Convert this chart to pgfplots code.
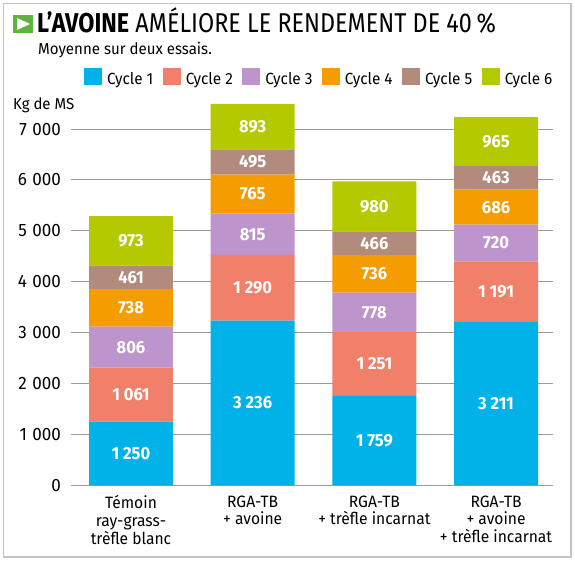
\documentclass[border=0pt]{standalone}
\usepackage{pgfplots}
\pgfplotsset{compat=1.18}
\usepackage{fontspec}
\setmainfont{Fira Sans}[FakeStretch=0.95]
\newfontfamily\titlefont{Fira Sans}[FakeStretch=0.86]

\definecolor{c1}{HTML}{00B2E8}
\definecolor{c2}{HTML}{F0806A}
\definecolor{c3}{HTML}{BD94CC}
\definecolor{c4}{HTML}{F59C00}
\definecolor{c5}{HTML}{B38B7C}
\definecolor{c6}{HTML}{B5C900}
\definecolor{gridc}{HTML}{9A9A9A}
\definecolor{framec}{HTML}{C4C4C4}
\definecolor{titleg}{HTML}{5DB33B}

\newcommand\fs[1]{\fontsize{#1}{1.15\dimexpr#1pt\relax}\selectfont}

\pgfplotsset{
  cyc/.style={fill=#1, draw=none,
    legend image code/.code={\fill[#1] (0bp,-6bp) rectangle (18bp,11bp);}},
}

\begin{document}
\begin{tikzpicture}[x=1bp,y=1bp]
\useasboundingbox (0,0) rectangle (575,562);
\fill[white] (0,0) rectangle (575,562);
\draw[framec, line width=1.5bp] (3.5,5) rectangle (571,558.5);

% titre
\fill[titleg] (13,529) rectangle (33,547);
\fill[white] (17,532) -- (30,538) -- (17,544) -- cycle;
\node[anchor=base west, inner sep=0, font=\titlefont\fs{27.3}] at (37,529)
  {\textbf{L’AVOINE} AMÉLIORE LE RENDEMENT DE 40\,\%};
\node[anchor=base west, inner sep=0, font=\fs{15.9}] at (38,507)
  {Moyenne sur deux essais.};
\node[anchor=base west, inner sep=0, font=\fs{15.8}] at (13,452)
  {Kg de MS};

\begin{axis}[
  at={(71bp,76.7bp)}, anchor=south west,
  width=482bp, height=386.8bp, scale only axis,
  ybar stacked, bar width=0.69,
  xmin=-0.493, xmax=3.468, ymin=0, ymax=7600,
  axis line style={draw=none}, major tick length=0,
  ymajorgrids, grid style={gridc, line width=1bp},
  ytick={0,1000,...,7000}, scaled y ticks=false,
  yticklabel style={font=\fs{18}, anchor=east, inner sep=0pt, xshift=-10bp,
    /pgf/number format/1000 sep={\kern0.3em},
    /pgf/number format/assume math mode=true},
  xtick={0,1,2,3},
  xticklabels={{Témoin\\ray-grass-\\trèfle blanc},{RGA-TB\\+ avoine},
    {RGA-TB\\+ trèfle incarnat},{RGA-TB\\+ avoine\\+ trèfle incarnat}},
  xticklabel style={font=\fontsize{16.5}{18}\selectfont, align=center,
    anchor=north, inner sep=0pt, yshift=-10bp},
  visualization depends on={rawy \as \rawy},
  nodes near coords={\pgfmathprintnumber[assume math mode=true,
    1000 sep={\kern0.22em}]{\rawy}},
  every node near coord/.style={font=\bfseries\fs{17.5}, text=white,
    anchor=center, inner sep=0pt},
  legend columns=6,
  legend style={at={(0.027,1.0789)}, anchor=north west, draw=none,
    fill=none, inner sep=0pt, font=\fs{16.2},
    nodes={inner sep=0pt},
    /tikz/every odd column/.append style={column sep=5bp},
    /tikz/every even column/.append style={column sep=9.5bp}},
]
\addplot[cyc=c1] coordinates {(0,1250) (1,3236) (2,1759) (3,3211)};
\addplot[cyc=c2] coordinates {(0,1061) (1,1290) (2,1251) (3,1191)};
\addplot[cyc=c3] coordinates {(0,806) (1,815) (2,778) (3,720)};
\addplot[cyc=c4] coordinates {(0,738) (1,765) (2,736) (3,686)};
\addplot[cyc=c5] coordinates {(0,461) (1,495) (2,466) (3,463)};
\addplot[cyc=c6] coordinates {(0,973) (1,893) (2,980) (3,965)};
\legend{Cycle 1,Cycle 2,Cycle 3,Cycle 4,Cycle 5,Cycle 6}
\end{axis}
\end{tikzpicture}
\end{document}
